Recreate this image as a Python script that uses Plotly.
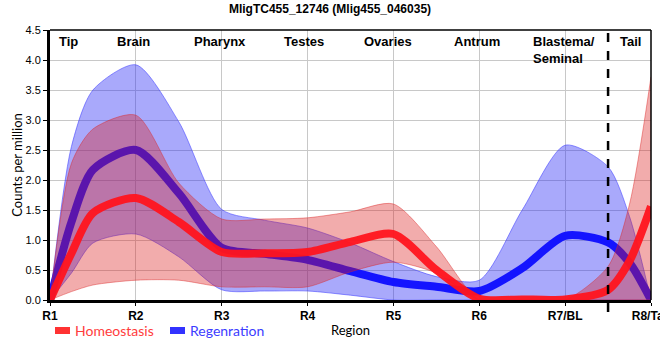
import plotly.graph_objects as go

# positions along body (index of region); intermediate steps
x_pos = [0, 0.25, 0.5, 1, 1.5, 2, 2.5, 3, 3.5, 4, 4.5, 5, 5.5, 6, 6.5, 6.75, 7]
tick_vals = [0, 1, 2, 3, 4, 5, 6, 7]
tick_labels = ["R1", "R2", "R3", "R4", "R5", "R6", "R7/BL", "R8/Tail"]

homeo_mean = [0, 0.78, 1.45, 1.70, 1.30, 0.80, 0.78, 0.80, 0.97, 1.10, 0.50, 0.02, 0.01, 0.01, 0.17, 0.65, 1.56]
homeo_upper = [0, 2.28, 2.85, 3.08, 1.95, 1.35, 1.35, 1.37, 1.47, 1.60, 0.89, 0.0, 0.0, 0.0, 0.56, 1.60, 3.72]
homeo_lower = [0, 0.14, 0.25, 0.33, 0.33, 0.22, 0.22, 0.22, 0.47, 0.63, 0.45, 0.0, 0.0, 0.0, 0.0, 0.0, 0.0]

regen_mean = [0, 1.30, 2.17, 2.50, 1.78, 0.87, 0.77, 0.67, 0.48, 0.30, 0.22, 0.15, 0.53, 1.07, 0.96, 0.62, 0.0]
regen_upper = [0, 2.56, 3.50, 3.92, 2.97, 1.51, 1.33, 1.20, 0.95, 0.64, 0.39, 0.33, 1.50, 2.58, 2.22, 1.39, 0.0]
regen_lower = [0, 0.45, 0.95, 1.10, 0.72, 0.17, 0.15, 0.15, 0.08, 0.0, 0.0, 0.0, 0.0, 0.0, 0.0, 0.0, 0.0]

region_names = ["Tip", "Brain", "Pharynx", "Testes", "Ovaries", "Antrum", "Blastema/<br>Seminal", "Tail"]
region_x = [0.21, 0.97, 1.98, 2.96, 3.94, 4.97, 5.99, 6.76]

boundary_x = 6.5

FONT = "Liberation Sans, Arial, sans-serif"
FONT2 = "Lato, Liberation Sans, sans-serif"
SM = 0.75

fig = go.Figure()

# Regeneration band
fig.add_trace(go.Scatter(x=x_pos, y=regen_lower, mode="lines",
                         line=dict(color="rgba(60,60,255,0.55)", width=1, shape="spline", smoothing=SM),
                         showlegend=False, hoverinfo="skip"))
fig.add_trace(go.Scatter(x=x_pos, y=regen_upper, mode="lines", fill="tonexty",
                         fillcolor="rgba(40,40,245,0.40)",
                         line=dict(color="rgba(60,60,255,0.55)", width=1, shape="spline", smoothing=SM),
                         showlegend=False, hoverinfo="skip"))
fig.add_trace(go.Scatter(x=x_pos, y=regen_mean, mode="lines", name="Regenration",
                         line=dict(color="rgba(20,20,255,1)", width=8, shape="spline", smoothing=SM),
                         showlegend=False))
# Homeostasis band
fig.add_trace(go.Scatter(x=x_pos, y=homeo_lower, mode="lines",
                         line=dict(color="rgba(220,40,40,0.45)", width=1, shape="spline", smoothing=SM),
                         showlegend=False, hoverinfo="skip"))
fig.add_trace(go.Scatter(x=x_pos, y=homeo_upper, mode="lines", fill="tonexty",
                         fillcolor="rgba(220,25,25,0.36)",
                         line=dict(color="rgba(220,40,40,0.45)", width=1, shape="spline", smoothing=SM),
                         showlegend=False, hoverinfo="skip"))
fig.add_trace(go.Scatter(x=x_pos, y=homeo_mean, mode="lines", name="Homeostasis",
                         line=dict(color="rgba(255,20,30,0.95)", width=8, shape="spline", smoothing=SM),
                         showlegend=False))

W, H = 660, 360
L, R, T, B = 50, 9, 30, 60
pw, ph = W - L - R, H - T - B


def px_x(p):
    return (p - L) / pw


def px_y(p):
    return (H - B - p) / ph


shapes = [
    # boundary dashed line
    dict(type="line", xref="x", yref="paper", x0=boundary_x, x1=boundary_x, y0=px_y(312), y1=1,
         line=dict(color="black", width=2.5, dash="dash")),
    # frame top/right
    dict(type="line", xref="paper", yref="paper", x0=0, x1=1, y0=1, y1=1, line=dict(color="black", width=1.5)),
    dict(type="line", xref="paper", yref="paper", x0=1, x1=1, y0=0, y1=1, line=dict(color="black", width=1.5)),
    # legend swatches
    dict(type="rect", xref="paper", yref="paper", x0=px_x(55), x1=px_x(70), y0=px_y(334), y1=px_y(327),
         fillcolor="rgb(255,50,50)", line=dict(width=0)),
    dict(type="rect", xref="paper", yref="paper", x0=px_x(170), x1=px_x(185), y0=px_y(334), y1=px_y(327),
         fillcolor="rgb(50,50,255)", line=dict(width=0)),
]

annotations = [
    dict(x=px_x(73), y=px_y(330), xref="paper", yref="paper", text="Homeostasis", showarrow=False,
         xanchor="left", yanchor="middle", font=dict(family=FONT2, size=14, color="rgb(255,60,60)")),
    dict(x=px_x(188), y=px_y(330), xref="paper", yref="paper", text="Regenration", showarrow=False,
         xanchor="left", yanchor="middle", font=dict(family=FONT2, size=14, color="rgb(60,60,255)")),
]
for name, rx in zip(region_names, region_x):
    annotations.append(dict(x=rx, y=px_y(32), xref="x", yref="paper", text="<b>%s</b>" % name,
                            showarrow=False, xanchor="center", yanchor="top", align="left",
                            font=dict(family=FONT, size=13, color="black")))

fig.update_layout(
    width=W, height=H,
    margin=dict(l=L, r=R, t=T, b=B, autoexpand=False),
    paper_bgcolor="white", plot_bgcolor="white",
    font=dict(family=FONT, size=11, color="black"),
    title=dict(text="<b>MligTC455_12746 (Mlig455_046035)</b>", x=0.5, xanchor="center",
               y=1 - 9 / H, yanchor="middle", font=dict(family=FONT, size=12, color="black")),
    xaxis=dict(range=[0, 7], tickvals=tick_vals, ticktext=["<b>%s</b>" % t for t in tick_labels],
               tickfont=dict(family=FONT, size=12, color="black"),
               ticklabeloverflow="allow", automargin=False,
               showgrid=True, gridcolor="#c8c8c8", gridwidth=1,
               showline=True, linecolor="black", linewidth=3,
               ticks="outside", ticklen=3, tickwidth=1, tickcolor="black",
               zeroline=False,
               title=dict(text="Region", font=dict(family=FONT2, size=13, color="black"), standoff=4)),
    yaxis=dict(range=[0, 4.5], dtick=0.5, tickformat=".1f",
               tickfont=dict(family=FONT, size=11, color="black"),
               automargin=False,
               showgrid=True, gridcolor="#c8c8c8", gridwidth=1,
               showline=True, linecolor="black", linewidth=3,
               ticks="outside", ticklen=4, tickwidth=1, tickcolor="black",
               zeroline=False,
               title=dict(text="Counts per million", font=dict(family=FONT2, size=13, color="black"), standoff=0)),
    shapes=shapes,
    annotations=annotations,
    showlegend=False,
)

fig.write_html("out.html", config={"displayModeBar": False},
               post_script="document.body.style.margin='0px';")
